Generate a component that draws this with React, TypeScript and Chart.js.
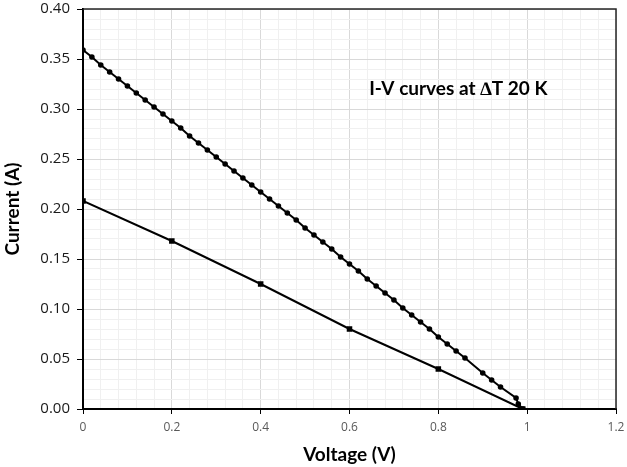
import React, { useEffect, useRef } from "react";
import { Chart, registerables } from "chart.js";

Chart.register(...registerables);

const upperVoltage = [
  0, 0.02, 0.04, 0.06, 0.08, 0.1, 0.12, 0.14, 0.16, 0.18, 0.2, 0.22, 0.24, 0.26, 0.28, 0.3, 0.32, 0.34,
  0.36, 0.38, 0.4, 0.42, 0.44, 0.46, 0.48, 0.5, 0.52, 0.54, 0.56, 0.58, 0.6, 0.62, 0.64, 0.66, 0.68, 0.7,
  0.72, 0.74, 0.76, 0.78, 0.8, 0.82, 0.84, 0.86, 0.9, 0.92, 0.94, 0.975, 0.98, 0.99,
];
const upperCurrent = [
  0.359, 0.352, 0.344, 0.337, 0.33, 0.323, 0.316, 0.309, 0.302, 0.295, 0.288, 0.281, 0.273, 0.266, 0.259,
  0.252, 0.245, 0.238, 0.231, 0.224, 0.217, 0.21, 0.203, 0.196, 0.189, 0.181, 0.174, 0.167, 0.16, 0.152,
  0.145, 0.138, 0.13, 0.123, 0.116, 0.109, 0.101, 0.094, 0.087, 0.08, 0.072, 0.065, 0.058, 0.051, 0.036,
  0.029, 0.022, 0.011, 0.005, 0.0,
];
const lowerVoltage = [0, 0.2, 0.4, 0.6, 0.8, 0.99];
const lowerCurrent = [0.208, 0.168, 0.125, 0.08, 0.04, 0.0];

const annotationText = "I-V curves at \u2206T 20 K";
const xTitle = "Voltage (V)";
const yTitle = "Current (A)";

const isMult = (v: number, step: number) => Math.abs(v / step - Math.round(v / step)) < 1e-6;

export default function App() {
  const ref = useRef<HTMLCanvasElement | null>(null);
  useEffect(() => {
    if (!ref.current) return;
    const textPlugin = {
      id: "extras",
      afterDraw(chart: any) {
        const { ctx, chartArea, scales } = chart;
        ctx.save();
        ctx.strokeStyle = "#262626";
        ctx.lineWidth = 1.5;
        ctx.beginPath();
        ctx.moveTo(chartArea.left, chartArea.top);
        ctx.lineTo(chartArea.right, chartArea.top);
        ctx.lineTo(chartArea.right, chartArea.bottom);
        ctx.stroke();
        ctx.fillStyle = "#000";
        ctx.font = "bold 19px Lato";
        ctx.textAlign = "center";
        ctx.textBaseline = "middle";
        ctx.fillText(annotationText, scales.x.getPixelForValue(0.845), scales.y.getPixelForValue(0.32));
        ctx.restore();
      },
    };
    const chart = new Chart(ref.current, {
      type: "scatter",
      data: {
        datasets: [
          {
            data: upperVoltage.map((v, i) => ({ x: v, y: upperCurrent[i] })),
            showLine: true,
            borderColor: "#000",
            backgroundColor: "#000",
            borderWidth: 2,
            pointRadius: 1.8,
            pointStyle: "circle",
            tension: 0,
          },
          {
            data: lowerVoltage.map((v, i) => ({ x: v, y: lowerCurrent[i] })),
            showLine: true,
            borderColor: "#000",
            backgroundColor: "#000",
            borderWidth: 2,
            pointRadius: 2.5,
            pointStyle: "rect",
            tension: 0,
          },
        ],
      },
      options: {
        animation: false,
        responsive: false,
        layout: { padding: { left: 0, right: 11, top: 9, bottom: 0 } },
        plugins: { legend: { display: false }, tooltip: { enabled: false } },
        scales: {
          x: {
            type: "linear",
            min: 0,
            max: 1.2,
            afterFit: (s: any) => {
              s.height = 58;
              s.paddingLeft = 0;
              s.paddingRight = 0;
            },
            ticks: {
              stepSize: 0.04,
              autoSkip: false,
              maxRotation: 0,
              padding: 6,
              color: "#595959",
              font: { family: "Open Sans", size: 12 },
              callback: (v: any) => {
                const n = Number(v);
                return isMult(n, 0.2) ? String(Math.round(n * 10) / 10) : "";
              },
            },
            grid: {
              color: (c: any) => (isMult(c.tick.value, 0.2) ? "#d9d9d9" : "#f0f0f0"),
              tickColor: (c: any) => (isMult(c.tick.value, 0.2) ? "#000" : "rgba(0,0,0,0)"),
              tickLength: 5,
              lineWidth: 1,
            },
            border: { color: "#000", width: 2 },
            title: {
              display: true,
              text: xTitle,
              color: "#000",
              font: { family: "Lato", size: 19, weight: "bold" },
              padding: { top: 8, bottom: 1 },
            },
          },
          y: {
            type: "linear",
            min: 0,
            max: 0.4,
            afterFit: (s: any) => {
              s.width = 83;
              s.paddingTop = 0;
              s.paddingBottom = 0;
            },
            ticks: {
              stepSize: 0.01,
              autoSkip: false,
              padding: 7,
              color: "#1a1a1a",
              font: { family: "Open Sans", size: 15 },
              callback: (v: any) => {
                const n = Number(v);
                return isMult(n, 0.05) ? n.toFixed(2) : "";
              },
            },
            grid: {
              color: (c: any) => (isMult(c.tick.value, 0.05) ? "#d9d9d9" : "#f0f0f0"),
              tickColor: (c: any) => (isMult(c.tick.value, 0.05) ? "#000" : "rgba(0,0,0,0)"),
              tickLength: 6,
              lineWidth: 1,
            },
            border: { color: "#000", width: 2 },
            title: {
              display: true,
              text: yTitle,
              color: "#000",
              font: { family: "Lato", size: 19, weight: "bold" },
              padding: { top: 1, bottom: 2 },
            },
          },
        },
      },
      plugins: [textPlugin],
    });
    return () => chart.destroy();
  }, []);
  return (
    <div style={{ position: "fixed", left: 0, top: 0, width: 627, height: 467, background: "#fff" }}>
      <canvas ref={ref} width={627} height={467} />
    </div>
  );
}
